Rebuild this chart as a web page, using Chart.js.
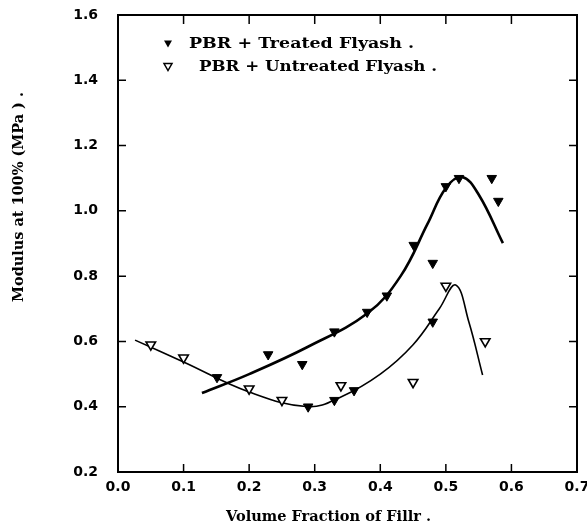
<!DOCTYPE html>
<html>
<head>
<meta charset="utf-8">
<script src="https://cdn.jsdelivr.net/npm/chart.js@4.4.1/dist/chart.umd.min.js"></script>
<style>
  html, body { margin: 0; padding: 0; background: #fff; }
  #wrap { width: 587px; height: 532px; }
</style>
</head>
<body>
<div id="wrap"><canvas id="modulus" width="587" height="532"></canvas></div>
<script>
// values
var treatedX = [0.151, 0.229, 0.281, 0.29, 0.33, 0.33, 0.36, 0.38, 0.41, 0.451, 0.48, 0.48, 0.50, 0.52, 0.57, 0.58];
var treatedY = [0.49, 0.56, 0.53, 0.40, 0.42, 0.63, 0.45, 0.69, 0.74, 0.895, 0.84, 0.66, 1.075, 1.10, 1.10, 1.03];

var untreatedX = [0.05, 0.10, 0.20, 0.25, 0.34, 0.45, 0.50, 0.56];
var untreatedY = [0.59, 0.55, 0.455, 0.42, 0.465, 0.475, 0.77, 0.60];

var treatedFitX = [0.128, 0.20, 0.289, 0.381, 0.431, 0.472, 0.50, 0.525, 0.55, 0.587];
var treatedFitY = [0.442, 0.50, 0.583, 0.687, 0.80, 0.96, 1.07, 1.104, 1.05, 0.901];

var untreatedFitX = [0.026, 0.10, 0.20, 0.29, 0.34, 0.40, 0.45, 0.49, 0.515, 0.535, 0.556];
var untreatedFitY = [0.604, 0.537, 0.445, 0.400, 0.43, 0.50, 0.59, 0.70, 0.773, 0.66, 0.497];

var legendLabels = ["PBR + Treated Flyash .", "PBR + Untreated Flyash ."];
var xTitle = "Volume Fraction of Fillr .";
var yTitle = "Modulus at 100% (MPa ) .";

function pts(xs, ys) {
    return xs.map(function (x, i) { return { x: x, y: ys[i] }; });
}

var tickFont = { family: "DejaVu Sans", size: 14, weight: "bold" };

// the original uses a wide typewriter face; stretch the serif to its width
function wideText(c, txt, w) {
    var m = c.measureText(txt).width;
    c.scale(w / m, 1);
    c.fillText(txt, 0, 0);
}

// frame, inward ticks on all four sides, axis titles and the legend
var frameTicks = {
    id: "frameTicks",
    afterDraw: function (chart) {
        var c = chart.ctx, a = chart.chartArea;
        var xs = chart.scales.x, ys = chart.scales.y;
        c.save();
        c.strokeStyle = "#000";
        c.lineWidth = 2;
        c.strokeRect(a.left, a.top, a.right - a.left, a.bottom - a.top);
        c.lineWidth = 1.5;
        c.beginPath();
        xs.ticks.forEach(function (t) {
            var px = xs.getPixelForValue(t.value);
            c.moveTo(px, a.bottom); c.lineTo(px, a.bottom - 8);
            c.moveTo(px, a.top); c.lineTo(px, a.top + 9);
        });
        ys.ticks.forEach(function (t) {
            var py = ys.getPixelForValue(t.value);
            c.moveTo(a.left, py); c.lineTo(a.left + 8, py);
            c.moveTo(a.right, py); c.lineTo(a.right - 8, py);
        });
        c.stroke();

        c.fillStyle = "#000";
        c.textBaseline = "middle";
        c.textAlign = "left";

        // x title
        c.font = "bold 14px 'DejaVu Serif'";
        c.save();
        c.translate(226, 517);
        wideText(c, xTitle, 205);
        c.restore();

        // y title, sits high on the axis as in the original
        c.save();
        c.translate(19, 302);
        c.rotate(-Math.PI / 2);
        wideText(c, yTitle, 210);
        c.restore();

        // legend
        c.font = "bold 15px 'DejaVu Serif'";
        var rows = [44, 67];
        var textX = [189, 199];
        var textW = [225, 238];
        rows.forEach(function (y, i) {
            var mx = 168;
            c.beginPath();
            c.moveTo(mx - 4, y - 3.5);
            c.lineTo(mx + 4, y - 3.5);
            c.lineTo(mx, y + 3.5);
            c.closePath();
            if (i === 0) { c.fill(); } else { c.lineWidth = 1.5; c.stroke(); }
            c.save();
            c.translate(textX[i], y);
            wideText(c, legendLabels[i], textW[i]);
            c.restore();
        });
        c.restore();
    }
};

var tri = { pointStyle: "triangle", rotation: 180, pointRadius: 5.5, pointHoverRadius: 5.5 };

new Chart(document.getElementById("modulus").getContext("2d"), {
    type: "scatter",
    data: {
        datasets: [
            {
                label: "treated fit",
                data: pts(treatedFitX, treatedFitY),
                showLine: true,
                borderColor: "#000",
                borderWidth: 2.6,
                pointRadius: 0,
                tension: 0.4,
                order: 3
            },
            {
                label: "untreated fit",
                data: pts(untreatedFitX, untreatedFitY),
                showLine: true,
                borderColor: "#000",
                borderWidth: 1.6,
                pointRadius: 0,
                tension: 0.4,
                order: 3
            },
            Object.assign({
                label: "PBR + Treated Flyash",
                data: pts(treatedX, treatedY),
                backgroundColor: "#000",
                borderColor: "#000",
                borderWidth: 1,
                order: 1
            }, tri),
            Object.assign({
                label: "PBR + Untreated Flyash",
                data: pts(untreatedX, untreatedY),
                backgroundColor: "#fff",
                borderColor: "#000",
                borderWidth: 1.6,
                order: 2
            }, tri)
        ]
    },
    options: {
        responsive: false,
        animation: false,
        layout: { padding: { left: 0, top: 15, right: 10, bottom: 0 } },
        plugins: {
            legend: { display: false },
            tooltip: { enabled: false }
        },
        scales: {
            x: {
                type: "linear",
                min: 0, max: 0.7,
                afterFit: function (s) {
                    s.height = 60;
                    s.paddingLeft = 0; s.paddingRight = 0;
                },
                grid: { display: false, drawTicks: false },
                border: { display: false },
                ticks: {
                    stepSize: 0.1,
                    padding: 7,
                    color: "#000",
                    font: tickFont,
                    callback: function (v) { return v.toFixed(1); }
                }
            },
            y: {
                type: "linear",
                min: 0.2, max: 1.6,
                afterFit: function (s) {
                    s.width = 118;
                    s.paddingTop = 0; s.paddingBottom = 0;
                },
                grid: { display: false, drawTicks: false },
                border: { display: false },
                ticks: {
                    stepSize: 0.2,
                    padding: 20,
                    color: "#000",
                    font: tickFont,
                    callback: function (v) { return v.toFixed(1); }
                }
            }
        }
    },
    plugins: [frameTicks]
});
</script>
</body>
</html>
